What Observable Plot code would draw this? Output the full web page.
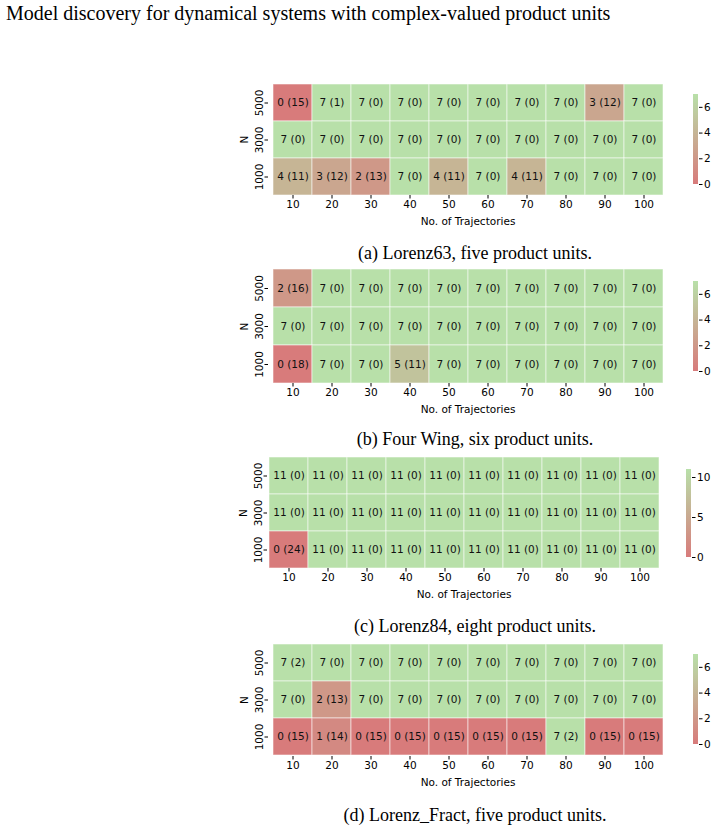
<!DOCTYPE html>
<html><head><meta charset="utf-8">
<script src="https://cdn.jsdelivr.net/npm/d3@7"></script>
<script src="https://cdn.jsdelivr.net/npm/@observablehq/plot@0.6"></script>
<style>
body{margin:0;background:#fff;}
#root{position:relative;width:715px;height:827px;overflow:hidden;background:#fff;}
.abs{position:absolute;}
.title{font-family:"Liberation Serif","Times New Roman",serif;font-size:20px;line-height:20px;left:6px;top:3px;white-space:nowrap;color:#000;}
.cap{font-family:"Liberation Serif","Times New Roman",serif;font-size:18px;white-space:nowrap;transform:translateX(-50%);color:#000;line-height:18px;}
</style></head><body><div id="root"></div>
<script>
// ---- data ----
const title = "Model discovery for dynamical systems with complex-valued product units";
const trajectories = [10, 20, 30, 40, 50, 60, 70, 80, 90, 100];
const nValues = [5000, 3000, 1000];

const lorenz63Found = [
  [0, 7, 7, 7, 7, 7, 7, 7, 3, 7],
  [7, 7, 7, 7, 7, 7, 7, 7, 7, 7],
  [4, 3, 2, 7, 4, 7, 4, 7, 7, 7]];
const lorenz63Wrong = [
  [15, 1, 0, 0, 0, 0, 0, 0, 12, 0],
  [0, 0, 0, 0, 0, 0, 0, 0, 0, 0],
  [11, 12, 13, 0, 11, 0, 11, 0, 0, 0]];

const fourWingFound = [
  [2, 7, 7, 7, 7, 7, 7, 7, 7, 7],
  [7, 7, 7, 7, 7, 7, 7, 7, 7, 7],
  [0, 7, 7, 5, 7, 7, 7, 7, 7, 7]];
const fourWingWrong = [
  [16, 0, 0, 0, 0, 0, 0, 0, 0, 0],
  [0, 0, 0, 0, 0, 0, 0, 0, 0, 0],
  [18, 0, 0, 11, 0, 0, 0, 0, 0, 0]];

const lorenz84Found = [
  [11, 11, 11, 11, 11, 11, 11, 11, 11, 11],
  [11, 11, 11, 11, 11, 11, 11, 11, 11, 11],
  [0, 11, 11, 11, 11, 11, 11, 11, 11, 11]];
const lorenz84Wrong = [
  [0, 0, 0, 0, 0, 0, 0, 0, 0, 0],
  [0, 0, 0, 0, 0, 0, 0, 0, 0, 0],
  [24, 0, 0, 0, 0, 0, 0, 0, 0, 0]];

const fractFound = [
  [7, 7, 7, 7, 7, 7, 7, 7, 7, 7],
  [7, 2, 7, 7, 7, 7, 7, 7, 7, 7],
  [0, 1, 0, 0, 0, 0, 0, 7, 0, 0]];
const fractWrong = [
  [2, 0, 0, 0, 0, 0, 0, 0, 0, 0],
  [0, 13, 0, 0, 0, 0, 0, 0, 0, 0],
  [15, 14, 15, 15, 15, 15, 15, 2, 15, 15]];

const colorbarTicks7 = [0, 2, 4, 6];
const colorbarTicks11 = [0, 5, 10];
const colorMax = [7, 7, 11, 7];
const captions = [
  "(a) Lorenz63, five product units.",
  "(b) Four Wing, six product units.",
  "(c) Lorenz84, eight product units.",
  "(d) Lorenz_Fract, five product units."];

// ---- style / layout ----
const RED = "#d87b7b", GREEN = "#b8e0a9";
const FONT = "DejaVu Sans";
const FS = 10.5;
const layout = [
  {hl: 268, hr: 667, ht: 83, hb: 195, cbx: 693, cbt: 94, cbb: 184, base: 259},
  {hl: 268, hr: 667, ht: 269, hb: 383, cbx: 693, cbt: 281, cbb: 371, base: 445},
  {hl: 267, hr: 660, ht: 457, hb: 568, cbx: 686, cbt: 469, cbb: 557, base: 632},
  {hl: 268, hr: 667, ht: 643, hb: 756, cbx: 693, cbt: 654, cbb: 744, base: 821}];
const capX = 475;

const panels = [
  {found: lorenz63Found, wrong: lorenz63Wrong, ticks: colorbarTicks7},
  {found: fourWingFound, wrong: fourWingWrong, ticks: colorbarTicks7},
  {found: lorenz84Found, wrong: lorenz84Wrong, ticks: colorbarTicks11},
  {found: fractFound, wrong: fractWrong, ticks: colorbarTicks7}];

const root = document.getElementById("root");
const t = document.createElement("div");
t.className = "abs title"; t.textContent = title;
root.appendChild(t);

panels.forEach((p, k) => {
  const L = layout[k];
  const vmax = colorMax[k];
  const rows = [];
  nValues.forEach((n, i) => trajectories.forEach((tr, j) => {
    rows.push({traj: String(tr), n: String(n), s: p.found[i][j], w: p.wrong[i][j]});
  }));
  const mt = 4, mb = 34, mr = 6;
  const heat = Plot.plot({
    width: L.hr + mr,
    height: (L.hb - L.ht) + mt + mb,
    marginLeft: L.hl, marginRight: mr, marginTop: mt, marginBottom: mb,
    style: {fontFamily: FONT, fontSize: FS + "px", color: "#000", background: "transparent", overflow: "visible"},
    x: {type: "band", domain: trajectories.map(String), padding: 0},
    y: {type: "band", domain: nValues.map(String), padding: 0},
    color: {type: "linear", domain: [0, vmax], range: [RED, GREEN], interpolate: "rgb"},
    marks: [
      Plot.cell(rows, {x: "traj", y: "n", fill: "s", inset: 0, stroke: "white", strokeOpacity: 0.55, strokeWidth: 1}),
      Plot.text(rows, {x: "traj", y: "n", text: d => `${d.s} (${d.w})`, fill: "#111", fontSize: FS}),
      Plot.axisX({tickSize: 3.5, tickPadding: 2, fontSize: FS, label: "No. of Trajectories", labelAnchor: "center", labelArrow: "none", labelOffset: 29}),
      Plot.axisY({tickSize: 3.5, tickPadding: 2, tickRotate: -90, fontSize: FS, label: "N", labelAnchor: "center", labelArrow: "none", labelOffset: 28})
    ]
  });
  heat.classList.add("abs");
  heat.style.left = "0px";
  heat.style.top = (L.ht - mt) + "px";
  root.appendChild(heat);

  // colorbar
  const cmt = 4, cmb = 6, cml = 2, cw = 5;
  const gid = "grad" + k;
  const cb = Plot.plot({
    width: cml + cw + 26,
    height: (L.cbb - L.cbt) + cmt + cmb,
    marginLeft: cml, marginRight: 26, marginTop: cmt, marginBottom: cmb,
    style: {fontFamily: FONT, fontSize: FS + "px", color: "#000", background: "transparent", overflow: "visible"},
    x: {domain: [0, 1], axis: null},
    y: {domain: [0, vmax], axis: null},
    marks: [
      Plot.rect([{lo: 0, hi: vmax}], {x1: 0, x2: 1, y1: "lo", y2: "hi", fill: `url(#${gid})`}),
      Plot.axisY(p.ticks, {anchor: "right", tickSize: 3.5, tickPadding: 2, fontSize: FS, label: null})
    ]
  });
  const g = d3.select(cb).insert("defs", ":first-child").append("linearGradient")
    .attr("id", gid).attr("x1", 0).attr("y1", 1).attr("x2", 0).attr("y2", 0);
  g.append("stop").attr("offset", 0).attr("stop-color", RED);
  g.append("stop").attr("offset", 1).attr("stop-color", GREEN);
  cb.classList.add("abs");
  cb.style.left = (L.cbx - cml) + "px";
  cb.style.top = (L.cbt - cmt) + "px";
  root.appendChild(cb);

  const c = document.createElement("div");
  c.className = "abs cap";
  c.textContent = captions[k];
  c.style.left = capX + "px";
  c.style.top = (L.base - 15) + "px";
  root.appendChild(c);
});
</script></body></html>
